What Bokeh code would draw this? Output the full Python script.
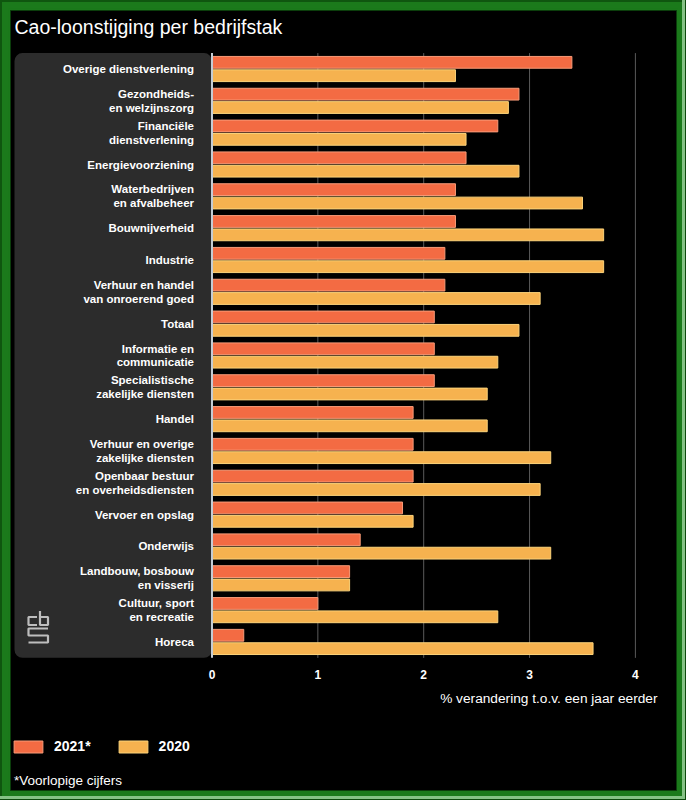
from bokeh.plotting import figure
from bokeh.models import (Range1d, LinearAxis, FixedTicker, ColumnDataSource, Label,
                          Legend, LegendItem, BoxAnnotation, GlobalInlineStyleSheet)
from bokeh.transform import dodge
from bokeh.core.properties import value
from bokeh.embed import file_html
from bokeh.resources import INLINE

# ---------------- data ----------------
categories = [
    "Overige dienstverlening",
    "Gezondheids-\nen welzijnszorg",
    "Financiële\ndienstverlening",
    "Energievoorziening",
    "Waterbedrijven\nen afvalbeheer",
    "Bouwnijverheid",
    "Industrie",
    "Verhuur en handel\nvan onroerend goed",
    "Totaal",
    "Informatie en\ncommunicatie",
    "Specialistische\nzakelijke diensten",
    "Handel",
    "Verhuur en overige\nzakelijke diensten",
    "Openbaar bestuur\nen overheidsdiensten",
    "Vervoer en opslag",
    "Onderwijs",
    "Landbouw, bosbouw\nen visserij",
    "Cultuur, sport\nen recreatie",
    "Horeca",
]
values_2021 = [3.4, 2.9, 2.7, 2.4, 2.3, 2.3, 2.2, 2.2, 2.1, 2.1, 2.1, 1.9, 1.9, 1.9, 1.8, 1.4, 1.3, 1.0, 0.3]
values_2020 = [2.3, 2.8, 2.4, 2.9, 3.5, 3.7, 3.7, 3.1, 2.9, 2.7, 2.6, 2.6, 3.2, 3.1, 1.9, 3.2, 1.3, 2.7, 3.6]
x_ticks = [0, 1, 2, 3, 4]
series_labels = ["2021*", "2020"]
title_text = "Cao-loonstijging per bedrijfstak"
axis_title = "% verandering t.o.v. een jaar eerder"
footnote = "*Voorlopige cijfers"

# ---------------- layout helpers (page pixels -> data) ----------------
X0, XS = 211.5, 105.85
Y0, YS = 52.6, 31.83
def X(px):
    return (px - X0) / XS
def Y(py):
    return (py - Y0) / YS - 0.5

FONT = "Liberation Sans"
C21, L21 = "#f36b43", "#f89b78"
C20, L20 = "#f6b24f", "#fcd37a"
GREEN = "#1b7a1b"

n = len(categories)
idx = list(range(n))

p = figure(width=670, height=784, output_backend="svg", toolbar_location=None,
           x_axis_location=None, y_axis_location=None,
           x_range=Range1d(X(10), X(676)), y_range=Range1d(Y(790), Y(10)),
           min_border_left=2, min_border_right=2, min_border_top=2, min_border_bottom=2)
p.background_fill_color = "black"
p.border_fill_color = GREEN
p.outline_line_color = "#0b3d0b"
p.outline_line_width = 1
p.grid.visible = False
p.stylesheets = [GlobalInlineStyleSheet(
    css="html { height: 100%; background-color: #1b7a1b; "
        "box-shadow: inset -1px -1px 0 #0d4a0d, inset -4px -4px 0 #86c286, inset 2px 2px 0 #0f560f; } "
        "body { margin: 8px !important; padding: 0; background-color: transparent; overflow: hidden; }")]

src = ColumnDataSource(dict(y=idx, cat=categories, v21=values_2021, v20=values_2020))

# label panel
p.add_layout(BoxAnnotation(left=X(14), right=0, top=-0.5, bottom=n - 0.5,
                           fill_color="#2c2c2c", fill_alpha=1.0, line_color=None,
                           border_radius=8, level="underlay"))

# grid lines
gx = x_ticks[1:]
p.segment(x0=gx, y0=[-0.5] * len(gx), x1=gx, y1=[n - 0.5] * len(gx),
          line_color="#5a5a5a", line_width=1)

# bars
r21 = p.hbar(y=dodge("y", -0.21), left=0, right="v21", height=0.37, source=src,
             fill_color=C21, line_color=L21, line_width=1)
r20 = p.hbar(y=dodge("y", 0.21), left=0, right="v20", height=0.37, source=src,
             fill_color=C20, line_color=L20, line_width=1)

# vertical base line
p.segment(x0=[0], y0=[-0.5], x1=[0], y1=[n - 0.5], line_color="#c4ccd4", line_width=2)

# category labels
p.text(x=X(193.5), y="y", text="cat", source=src, text_font=value(FONT),
       text_font_style="bold", text_font_size="11.5px", text_color="white",
       text_align="right", text_baseline="middle", text_line_height=1.16)

# CBS logo (decorative)
logo_xs = [[X(36.5), X(28), X(28), X(36.5)],
           [X(39.5), X(39.5), X(47.5), X(47.5), X(39.5)],
           [X(47.5), X(28), X(28), X(47.5), X(47.5), X(28)]]
logo_ys = [[Y(616.5), Y(616.5), Y(624.5), Y(624.5)],
           [Y(610.5), Y(624.5), Y(624.5), Y(616.5), Y(616.5)],
           [Y(628), Y(628), Y(635), Y(635), Y(642), Y(642)]]
p.multi_line(xs=logo_xs, ys=logo_ys, line_color="#bdbdbd", line_width=2.2)

# x axis
ax = LinearAxis(fixed_location=n - 0.5, ticker=FixedTicker(ticks=x_ticks),
                axis_line_color=None, major_tick_line_color=None, minor_tick_line_color=None,
                major_label_standoff=6, major_label_text_color="white",
                major_label_text_font_size="12px", major_label_text_font_style="bold",
                major_label_text_font=FONT)
p.add_layout(ax, "below")

# texts
p.add_layout(Label(x=X(14), y=Y(26.5), text=title_text, text_font=FONT, text_font_size="19.5px",
                   text_color="white", text_align="left", text_baseline="alphabetic"))
p.add_layout(Label(x=X(657), y=Y(698), text=axis_title, text_font=FONT, text_font_size="13.7px",
                   text_color="white", text_align="right", text_baseline="middle"))
p.add_layout(Label(x=X(13.5), y=Y(780), text=footnote, text_font=FONT, text_font_size="13.5px",
                   text_color="white", text_align="left", text_baseline="middle"))

# legend
legend = Legend(items=[LegendItem(label=series_labels[0], renderers=[r21]),
                       LegendItem(label=series_labels[1], renderers=[r20])],
                location=(0, 36), orientation="horizontal",
                glyph_width=36, glyph_height=15, label_height=15, label_width=20,
                label_standoff=8, spacing=24, padding=0, margin=0,
                background_fill_alpha=0, border_line_color=None,
                label_text_color="white", label_text_font=FONT,
                label_text_font_size="14px", label_text_font_style="bold")
p.add_layout(legend)

open("out.html", "w").write(file_html(p, INLINE))
